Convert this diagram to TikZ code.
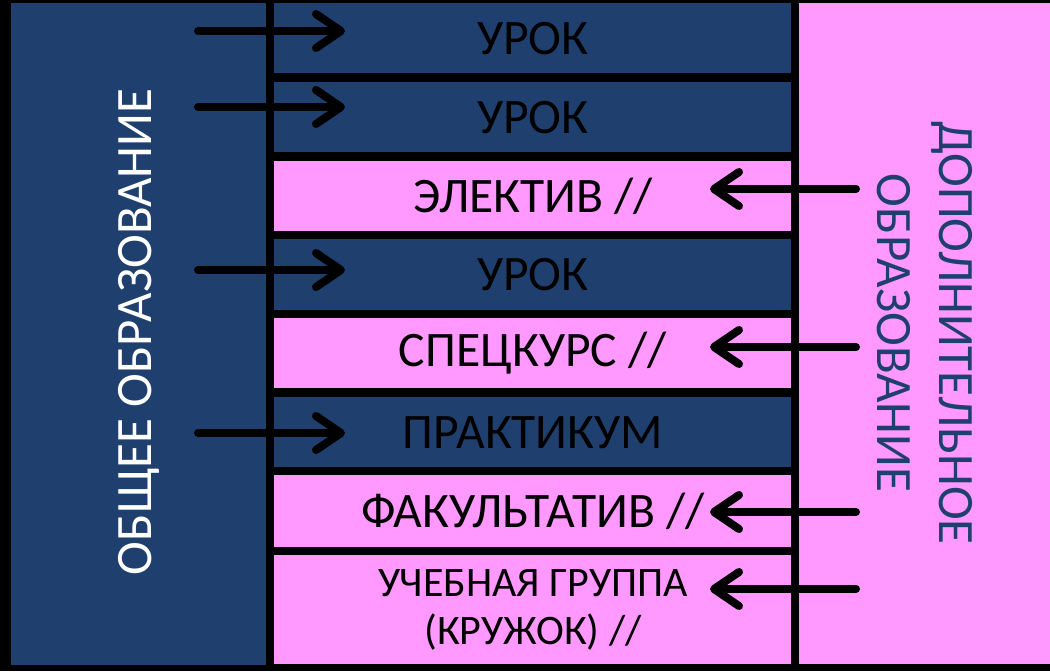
\documentclass[tikz,border=0pt]{standalone}
\usepackage{fontspec}
\setmainfont{Carlito}
\usetikzlibrary{arrows.meta}

\definecolor{obshBlue}{HTML}{1F406E}
\definecolor{dopPink}{HTML}{FF99FF}

\tikzset{
    rowbox/.style={minimum width=258.5pt, inner sep=0pt, anchor=north west,
        font=\fontsize{24.8}{28}\selectfont},
    urokbox/.style={rowbox, fill=obshBlue},
    dopbox/.style={rowbox, fill=dopPink},
    pointer/.style={line width=4pt, line cap=round,
        -{Straight Barb[length=12.5pt,width=17pt,round]}},
}

\begin{document}
\begin{tikzpicture}[x=0.5pt, y=-0.5pt]
    \fill[black] (0,0) rectangle (1050,671);
    % columns
    \fill[obshBlue] (11,3) rectangle (266,665);
    \fill[dopPink] (799,3) rectangle (1050,664);

    \node[rotate=90, text=white, font=\fontsize{25.5}{31}\selectfont] (obsh) at (139,332) {ОБЩЕЕ ОБРАЗОВАНИЕ};
    \node[rotate=-90, text=obshBlue, align=center, font=\fontsize{25.5}{31}\selectfont] (dop) at (925,333) {ДОПОЛНИТЕЛЬНОЕ\\ОБРАЗОВАНИЕ};

    % rows
    \node[urokbox, minimum height=35pt] (urok1) at (274,3) {УРОК};
    \node[urokbox, minimum height=35pt] (urok2) at (274,82) {УРОК};
    \node[dopbox, minimum height=35pt] (elektiv) at (274,161) {ЭЛЕКТИВ //};
    \node[urokbox, minimum height=35.5pt] (urok3) at (274,239) {УРОК};
    \node[dopbox, minimum height=35pt] (speckurs) at (274,318) {СПЕЦКУРС //};
    \node[urokbox, minimum height=35pt] (praktikum) at (274,397) {ПРАКТИКУМ};
    \node[dopbox, minimum height=36pt] (fakultativ) at (274,475) {ФАКУЛЬТАТИВ //};
    \node[dopbox, minimum height=54.5pt, align=center, font=\fontsize{21}{24}\selectfont] (gruppa) at (274,555) {УЧЕБНАЯ ГРУППА\\(КРУЖОК) //};

    % arrows
    \coordinate (s1) at (198,31);  \coordinate (e1) at (345,31);
    \coordinate (s2) at (198,107); \coordinate (e2) at (345,107);
    \coordinate (s3) at (198,270); \coordinate (e3) at (345,270);
    \coordinate (s4) at (198,433); \coordinate (e4) at (345,433);
    \coordinate (d1) at (856,189); \coordinate (f1) at (710,189);
    \coordinate (d2) at (856,347); \coordinate (f2) at (710,347);
    \coordinate (d3) at (856,512); \coordinate (f3) at (710,512);
    \coordinate (d4) at (856,589); \coordinate (f4) at (710,589);

    \draw[pointer] (s1) -- (e1);
    \draw[pointer] (s2) -- (e2);
    \draw[pointer] (s3) -- (e3);
    \draw[pointer] (s4) -- (e4);
    \draw[pointer] (d1) -- (f1);
    \draw[pointer] (d2) -- (f2);
    \draw[pointer] (d3) -- (f3);
    \draw[pointer] (d4) -- (f4);
\end{tikzpicture}
\end{document}
